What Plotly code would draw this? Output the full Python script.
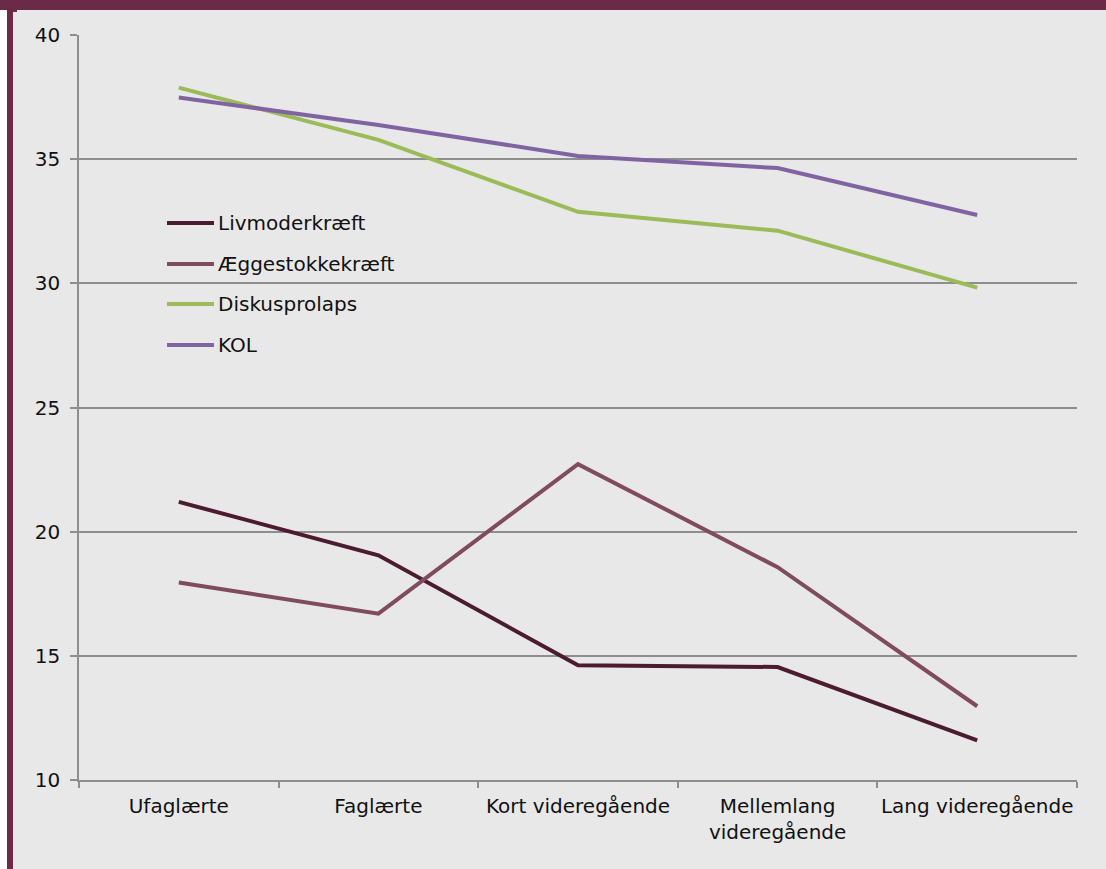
import plotly.graph_objects as go

# Education groups (x axis) and series
categories = ["Ufaglærte", "Faglærte", "Kort videregående",
              "Mellemlang<br>videregående", "Lang videregående"]
series_names = ["Livmoderkræft", "Æggestokkekræft", "Diskusprolaps", "KOL"]
livmoderkraeft = [21.2, 19.05, 14.62, 14.55, 11.6]
aeggestokkekraeft = [17.95, 16.7, 22.72, 18.57, 12.97]
diskusprolaps = [37.88, 35.78, 32.88, 32.12, 29.83]
kol = [37.48, 36.38, 35.13, 34.64, 32.75]
y_ticks = [10, 15, 20, 25, 30, 35, 40]

series_values = [livmoderkraeft, aeggestokkekraeft, diskusprolaps, kol]
colors = ["#4b1b2f", "#7f4b5e", "#9bbb59", "#8064a2"]

W, H = 1106, 869
L, R, T, B = 79, 29, 35, 89
PW, PH = W - L - R, H - T - B
FONT = "DejaVu Sans, Verdana, sans-serif"
MAROON = "#6b2a48"
BG = "#e8e8e8"
GRID = "#8e8e8e"
FS = 20


def px(x):
    return (x - L) / PW


def py(y):
    return (H - B - y) / PH


fig = go.Figure()
for name, vals, col in zip(series_names, series_values, colors):
    fig.add_trace(go.Scatter(
        x=categories, y=vals, name=name, mode="lines",
        line=dict(color=col, width=4), hoverinfo="skip", showlegend=False,
    ))

shapes = [
    # frame: top band, left strip, white margin
    dict(type="rect", xref="paper", yref="paper", x0=px(0), x1=px(W),
         y0=py(10), y1=py(0), fillcolor=MAROON, line_width=0, layer="below"),
    dict(type="rect", xref="paper", yref="paper", x0=px(0), x1=px(7),
         y0=py(H), y1=py(10), fillcolor="white", line_width=0, layer="below"),
    dict(type="rect", xref="paper", yref="paper", x0=px(7), x1=px(13),
         y0=py(H), y1=py(10), fillcolor=MAROON, line_width=0, layer="below"),
    dict(type="rect", xref="paper", yref="paper", x0=px(7), x1=px(17),
         y0=py(12), y1=py(10), fillcolor=MAROON, line_width=0, layer="below"),
]

annotations = []
legend_rows = [223, 264, 304, 345]
for name, col, ry in zip(series_names, colors, legend_rows):
    shapes.append(dict(type="line", xref="paper", yref="paper",
                       x0=px(167), x1=px(214), y0=py(ry), y1=py(ry),
                       line=dict(color=col, width=4)))
    annotations.append(dict(xref="paper", yref="paper", x=px(216), y=py(ry),
                            text=name, showarrow=False, xanchor="left",
                            yanchor="middle", font=dict(size=FS, color="#111")))

fig.update_layout(
    width=W, height=H,
    margin=dict(l=L, r=R, t=T, b=B, autoexpand=False),
    paper_bgcolor=BG, plot_bgcolor=BG,
    font=dict(family=FONT, size=FS, color="#111"),
    shapes=shapes, annotations=annotations,
    showlegend=False,
    xaxis=dict(
        type="category", range=[-0.5, 4.5], tickson="boundaries",
        ticks="outside", ticklen=6, automargin=False, tickangle=0,
        ticklabelstandoff=7,
        tickcolor=GRID, tickwidth=1.6, showgrid=False, showline=True,
        linecolor=GRID, linewidth=1.6, zeroline=False, fixedrange=True,
        tickfont=dict(size=FS),
    ),
    yaxis=dict(
        range=[10, 40], tickvals=y_ticks, ticks="outside", ticklen=7,
        automargin=False,
        tickcolor=GRID, tickwidth=1.6, showgrid=True, gridcolor=GRID,
        gridwidth=1.6, showline=True, linecolor=GRID, linewidth=1.6,
        zeroline=False, ticklabelstandoff=6, fixedrange=True,
        tickfont=dict(size=FS),
    ),
)

fig.write_html("out.html", config=dict(displayModeBar=False))
